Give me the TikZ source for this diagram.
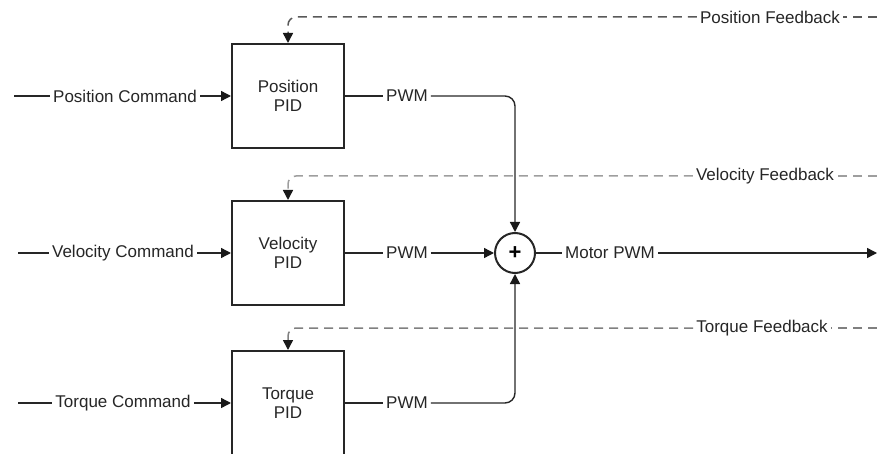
\documentclass[tikz,border=0pt]{standalone}
\usepackage{fontspec}
\setmainfont{Liberation Sans}
\usepackage{tikz}
\usetikzlibrary{arrows.meta, positioning}

\newcommand{\lblfont}{\fontsize{17}{18.5}\selectfont}

\begin{document}
\begin{tikzpicture}[
  x=1pt, y=-1pt,
  node distance=1.2cm and 38pt,
  box/.style={draw=black!85, line width=2pt, minimum width=112pt, minimum height=104pt, align=center, font=\lblfont, text=black!85},
  lbl/.style={fill=white, inner xsep=3pt, inner ysep=1pt, font=\lblfont, text=black!85},
  wire/.style={draw=black!85, line width=1.4pt},
  tip/.style={-{Triangle[length=10pt,width=10pt,color=black!90]}},
  arrow/.style={wire, tip},
  fb/.style={line width=1.5pt, dash pattern=on 9pt off 6pt, rounded corners=8pt}
]
\useasboundingbox (0,0) rectangle (877,454);

% Nodes
\node[box] (pospid) at (288,96) {Position\\PID};
\node[box] (velpid) at (288,253) {Velocity\\PID};
\node[box] (torpid) at (288,403) {Torque\\PID};

\coordinate (pcin) at (14,96);
\coordinate (vcin) at (18,253);
\coordinate (tcin) at (18,403);
\node[lbl] (pcmd) at (125,96) {Position Command};
\node[lbl] (vcmd) at (123,253) {Velocity Command};
\node[lbl] (tcmd) at (123,403) {Torque Command};

\node[lbl, right=of pospid] (ppwm) {PWM};
\node[lbl, right=of velpid] (vpwm) {PWM};
\node[lbl, right=of torpid] (tpwm) {PWM};

\node[draw=black!85, line width=2pt, circle, minimum size=40pt, inner sep=0pt, font=\fontsize{22}{22}\selectfont\bfseries] (sum) at (515,253) {+};
\node[lbl] (mpwm) at (610,253) {Motor PWM};
\coordinate (mout) at (877,253);

\coordinate (pfbin) at (877,17);
\coordinate (vfbin) at (877,176);
\coordinate (tfbin) at (877,328);
\node[lbl] (pfb) at (770,17) {Position Feedback};
\node[lbl] (vfb) at (765,176) {Velocity Feedback};
\node[lbl] (tfb) at (762,328) {Torque Feedback};

% Pointers
\draw[wire] (pcin) -- (pcmd);
\draw[arrow] (pcmd) -- (pospid);
\draw[wire] (vcin) -- (vcmd);
\draw[arrow] (vcmd) -- (velpid);
\draw[wire] (tcin) -- (tcmd);
\draw[arrow] (tcmd) -- (torpid);

\draw[wire] (pospid) -- (ppwm);
\draw[wire] (velpid) -- (vpwm);
\draw[wire] (torpid) -- (tpwm);

% Feedback
\draw[fb, draw=black!65] (pfbin) -- (pfb);
\draw[fb, draw=black!65, tip] (pfb) -| (pospid.north);
\draw[fb, draw=black!38] (vfbin) -- (vfb);
\draw[fb, draw=black!38, tip] (vfb) -| (velpid.north);
\draw[fb, draw=black!50] (tfbin) -- (tfb);
\draw[fb, draw=black!50, tip] (tfb) -| (torpid.north);

% Sum
\draw[arrow, rounded corners=10pt] (ppwm) -| (sum.north);
\draw[arrow] (vpwm) -- (sum);
\draw[arrow, rounded corners=10pt] (tpwm) -| (sum.south);
\draw[wire] (sum) -- (mpwm);
\draw[arrow] (mpwm) -- (mout);
\end{tikzpicture}
\end{document}
